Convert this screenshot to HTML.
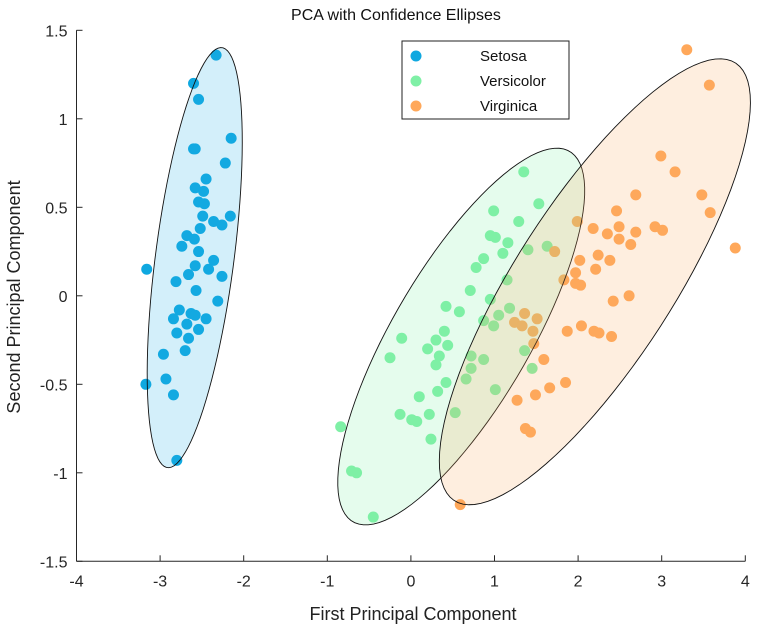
<!DOCTYPE html>
<html><head><meta charset="utf-8"><style>
body{margin:0;background:#fff;}
svg{display:block;font-family:"Liberation Sans",Arial,sans-serif;}
</style></head><body>
<svg id="chart" width="761" height="630">
<text x="396" y="20" text-anchor="middle" font-size="16" fill="#111">PCA with Confidence Ellipses</text>
<g id="ellipses"></g>
<g id="points"></g>
<g id="axes"></g>
<text x="413" y="620" text-anchor="middle" font-size="18" fill="#222">First Principal Component</text>
<text transform="translate(20,297) rotate(-90)" text-anchor="middle" font-size="18" fill="#222">Second Principal Component</text>
<g>
<rect x="402" y="41" width="167" height="78" fill="#fff" stroke="#222" stroke-width="1"/>
<circle cx="416" cy="56" r="5.5" fill="#0fa8e0"/>
<text x="480" y="61" font-size="15" fill="#111">Setosa</text>
<circle cx="416" cy="81" r="5.5" fill="#7ff0a6"/>
<text x="480" y="86" font-size="15" fill="#111">Versicolor</text>
<circle cx="416" cy="106" r="5.5" fill="#ffa85a"/>
<text x="480" y="111" font-size="15" fill="#111">Virginica</text>
</g>
</svg>
<script>
const xTicks=[-4,-3,-2,-1,0,1,2,3,4];
const yTicks=[-1.5,-1,-0.5,0,0.5,1,1.5];
const yTickLabels=["-1.5","-1","-0.5","0","0.5","1","1.5"];
const setosaX=[-2.33,-2.60,-2.54,-2.15,-2.60,-2.58,-2.22,-2.45,-2.58,-2.48,-2.54,-2.47,-2.49,-2.36,-2.26,-2.16,-2.52,-2.68,-2.59,-2.74,-2.54,-2.36,-2.58,-2.42,-3.16,-2.66,-2.26,-2.81,-2.57,-2.31,-2.77,-2.84,-2.63,-2.58,-2.45,-2.68,-2.54,-2.80,-2.66,-2.70,-2.96,-2.93,-3.17,-2.84,-2.80];
const setosaY=[1.36,1.20,1.11,0.89,0.83,0.83,0.75,0.66,0.61,0.59,0.53,0.52,0.45,0.42,0.40,0.45,0.38,0.34,0.32,0.28,0.25,0.20,0.17,0.15,0.15,0.12,0.11,0.08,0.03,-0.03,-0.08,-0.13,-0.10,-0.11,-0.13,-0.16,-0.19,-0.21,-0.24,-0.31,-0.33,-0.47,-0.50,-0.56,-0.93];
const versiX=[1.35,1.53,0.99,1.29,0.95,1.01,1.16,1.10,1.40,1.63,0.87,0.78,1.15,0.71,0.95,0.42,0.58,1.18,1.05,0.87,0.99,0.40,-0.11,0.30,0.20,0.44,0.34,-0.25,0.72,0.87,0.30,0.72,1.36,1.45,0.66,0.42,0.32,0.10,1.01,-0.13,0.01,0.07,0.22,0.53,-0.84,0.24,-0.71,-0.65,-0.45];
const versiY=[0.70,0.52,0.48,0.42,0.34,0.33,0.30,0.24,0.26,0.28,0.21,0.16,0.09,0.03,-0.02,-0.06,-0.09,-0.07,-0.11,-0.14,-0.17,-0.20,-0.24,-0.25,-0.30,-0.28,-0.34,-0.35,-0.34,-0.36,-0.39,-0.41,-0.31,-0.41,-0.47,-0.49,-0.54,-0.57,-0.53,-0.67,-0.70,-0.71,-0.67,-0.66,-0.74,-0.81,-0.99,-1.00,-1.25];
const virgX=[3.30,3.57,2.99,3.16,2.69,3.48,3.58,2.46,1.99,2.18,2.35,2.49,2.69,2.49,2.63,2.92,3.01,3.88,1.72,2.24,2.02,2.38,2.21,1.97,1.83,1.97,2.03,2.42,2.61,1.36,1.51,1.24,1.33,1.46,1.47,1.87,2.04,2.19,2.25,2.40,1.59,1.85,1.66,1.49,1.27,1.37,1.43,0.59];
const virgY=[1.39,1.19,0.79,0.70,0.57,0.57,0.47,0.48,0.42,0.38,0.35,0.39,0.36,0.32,0.29,0.39,0.37,0.27,0.25,0.23,0.20,0.20,0.15,0.13,0.09,0.07,0.06,-0.03,0.00,-0.10,-0.13,-0.15,-0.17,-0.20,-0.27,-0.20,-0.17,-0.20,-0.21,-0.23,-0.36,-0.49,-0.52,-0.56,-0.59,-0.75,-0.77,-1.18];

const X0=76.5,XU=83.6,YB=561.3,YU=177;
function sx(v){return X0+(v+4)*XU;}
function sy(v){return YB-(v+1.5)*YU;}
const NS='http://www.w3.org/2000/svg';
function mk(tag,attrs,parent){const e=document.createElementNS(NS,tag);for(const k in attrs)e.setAttribute(k,attrs[k]);parent.appendChild(e);return e;}

const groups=[
 {x:setosaX,y:setosaY,c:'#0fa8e0',f:'#22b0e6',n:'setosa',k:2.4477},
 {x:versiX,y:versiY,c:'#7ff0a6',f:'#7ff0a6',n:'versicolor',k:2.4477},
 {x:virgX,y:virgY,c:'#ffa85a',f:'#f8a860',n:'virginica',k:2.6}
];
const pg=document.getElementById('points');
groups.forEach(g=>{
  for(let i=0;i<g.x.length;i++){
    const c=mk('circle',{cx:sx(g.x[i]),cy:sy(g.y[i]),r:5.5,fill:g.c},pg);
    
    
  }
});
groups.forEach(g=>{
  const n=g.x.length;let mx=0,my=0;
  for(let i=0;i<n;i++){mx+=g.x[i];my+=g.y[i];}mx/=n;my/=n;
  let a=0,b=0,c=0;
  for(let i=0;i<n;i++){const dx=g.x[i]-mx,dy=g.y[i]-my;a+=dx*dx;b+=dx*dy;c+=dy*dy;}
  a/=(n-1);b/=(n-1);c/=(n-1);
  const tr=a+c,det=a*c-b*b,disc=Math.sqrt(tr*tr/4-det);
  const l1=tr/2+disc,l2=tr/2-disc;
  let vx=b,vy=l1-a;if(Math.abs(b)<1e-12){vx=a>=c?1:0;vy=a>=c?0:1;}
  const vn=Math.hypot(vx,vy);vx/=vn;vy/=vn;
  const k=g.k;
  const r1=k*Math.sqrt(l1),r2=k*Math.sqrt(Math.max(l2,0));
  let d='';
  for(let t=0;t<=100;t++){
    const th=t/100*2*Math.PI;
    const px=mx+r1*Math.cos(th)*vx-r2*Math.sin(th)*vy;
    const py=my+r1*Math.cos(th)*vy+r2*Math.sin(th)*vx;
    d+=(t?'L':'M')+sx(px).toFixed(2)+' '+sy(py).toFixed(2);
  }
  d+='Z';
  const p=mk('path',{d:d,fill:g.f,'fill-opacity':0.2,stroke:'#111','stroke-width':0.9},pg);
  
  
});
const ax=document.getElementById('axes');
const xl=mk('line',{x1:X0,y1:YB,x2:sx(4),y2:YB,stroke:'#262626','stroke-width':1},ax);


const yl=mk('line',{x1:X0,y1:YB,x2:X0,y2:sy(1.5),stroke:'#262626','stroke-width':1},ax);


xTicks.forEach(v=>{
  mk('line',{x1:sx(v),y1:YB,x2:sx(v),y2:YB-6,stroke:'#262626','stroke-width':1},ax);
  const t=mk('text',{x:sx(v),y:YB+25,'text-anchor':'middle','font-size':16,fill:'#262626'},ax);
  t.textContent=String(v);
  
  
});
yTicks.forEach((v,i)=>{
  mk('line',{x1:X0,y1:sy(v),x2:X0+6,y2:sy(v),stroke:'#262626','stroke-width':1},ax);
  const t=mk('text',{x:X0-9,y:sy(v)+6,'text-anchor':'end','font-size':16,fill:'#262626'},ax);
  t.textContent=yTickLabels[i];
  
  
});
</script>
</body></html>
